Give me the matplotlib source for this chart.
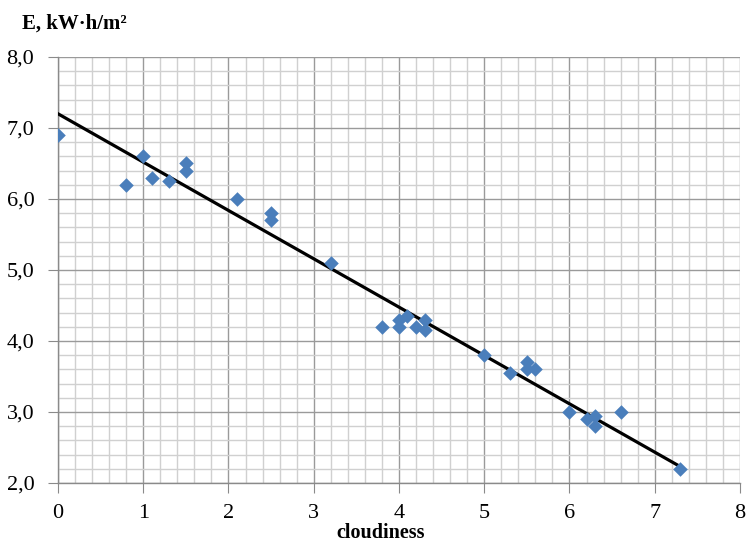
import numpy as np
import matplotlib
matplotlib.use("Agg")
import matplotlib.pyplot as plt
from matplotlib.ticker import MultipleLocator, FuncFormatter

cloudiness = [0.0, 0.8, 1.0, 1.1, 1.3, 1.5, 1.5, 2.1, 2.5, 2.5, 3.2, 3.8, 4.0, 4.0,
              4.1, 4.2, 4.3, 4.3, 5.0, 5.3, 5.5, 5.5, 5.6, 6.0, 6.2, 6.3, 6.3, 6.6, 7.3]
energy = [6.9, 6.2, 6.6, 6.3, 6.25, 6.5, 6.4, 6.0, 5.8, 5.7, 5.1, 4.2, 4.3, 4.2,
          4.35, 4.2, 4.3, 4.15, 3.8, 3.55, 3.7, 3.6, 3.6, 3.0, 2.9, 2.95, 2.8, 3.0, 2.2]
trend_x = [0.0, 7.3]
trend_y = [7.2, 2.23]

plt.rcParams["font.family"] = "Liberation Serif"

fig = plt.figure(figsize=(7.47, 5.42), dpi=100)
ax = fig.add_axes([0.0776, 0.1089, 0.913, 0.786])

ax.plot(trend_x, trend_y, color="black", linewidth=2.3, zorder=3)
ax.scatter(cloudiness, energy, marker="D", s=55, color="#4a7ebb", zorder=4, linewidths=0)

ax.set_xlim(0, 8)
ax.set_ylim(2, 8)
ax.xaxis.set_major_locator(MultipleLocator(1))
ax.xaxis.set_minor_locator(MultipleLocator(0.2))
ax.yaxis.set_major_locator(MultipleLocator(1))
ax.yaxis.set_minor_locator(MultipleLocator(0.2))
ax.yaxis.set_major_formatter(FuncFormatter(lambda v, p: f"{v:.1f}".replace(".", ",")))

ax.grid(which="major", color="#9a9a9a", linewidth=1.0)
ax.grid(which="minor", color="#d0d0d0", linewidth=1.0)
ax.set_axisbelow(True)

for s in ["top", "right"]:
    ax.spines[s].set_visible(False)
for s in ["left", "bottom"]:
    ax.spines[s].set_color("#8a8a8a")
    ax.spines[s].set_linewidth(1.0)

ax.tick_params(which="major", length=7, color="#8a8a8a", labelsize=16, pad=10)
ax.tick_params(axis="x", pad=8)
ax.tick_params(which="minor", length=0)

ax.set_xlabel("cloudiness", fontsize=14.5, fontweight="bold")
ax.xaxis.set_label_coords(0.473, -0.094)
fig.text(0.029, 0.956, "E, kW·h/m²", fontsize=15, fontweight="bold", va="center")

fig.savefig("out.png", dpi=100)
